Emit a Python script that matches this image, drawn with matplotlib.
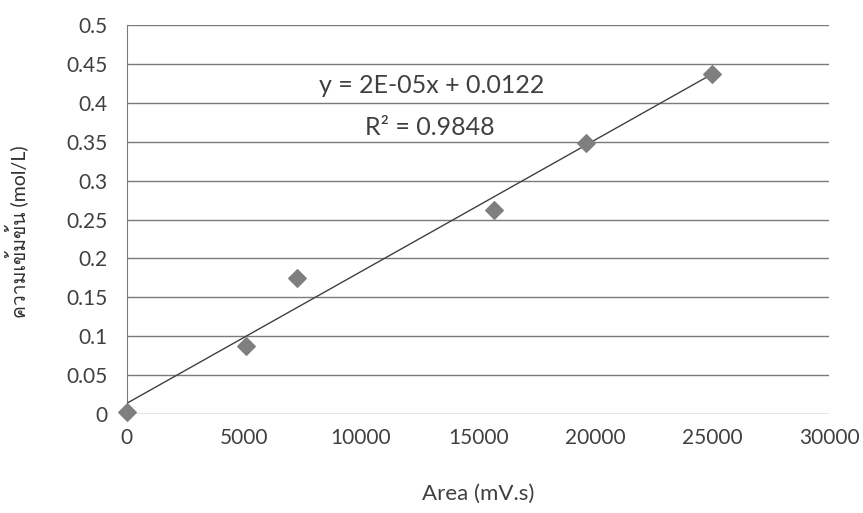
import numpy as np
import matplotlib.pyplot as plt
from matplotlib import font_manager

# calibration data
area = [0, 5100, 7250, 15700, 19600, 25000]
conc = [0.002, 0.088, 0.175, 0.262, 0.349, 0.437]
x_ticks = [0, 5000, 10000, 15000, 20000, 25000, 30000]
y_ticks = [0, 0.05, 0.1, 0.15, 0.2, 0.25, 0.3, 0.35, 0.4, 0.45, 0.5]
y_ticklabels = ['0', '0.05', '0.1', '0.15', '0.2', '0.25', '0.3', '0.35', '0.4', '0.45', '0.5']
eq_text = 'y = 2E-05x + 0.0122'
r2_text = 'R² = 0.9848'

# find a font that has Thai glyphs, if any
thai = [f.name for f in font_manager.fontManager.ttflist if 'Thai' in f.name or 'Garuda' in f.name or 'Loma' in f.name]
families = ['Lato'] + thai[:1] + ['DejaVu Sans']
plt.rcParams['font.family'] = families

fig = plt.figure(figsize=(8.63, 5.13), dpi=100)
ax = fig.add_axes([0.147, 0.193, 0.814, 0.758])

coef = np.polyfit(area, conc, 1)
xs = np.array([0, max(area)])
ax.plot(xs, np.polyval(coef, xs), color='#404040', lw=1.0, zorder=3)
ax.scatter(area, conc, marker='D', s=80, color='#7f7f7f', zorder=4, clip_on=False)

ax.set_xlim(0, 30000)
ax.set_ylim(0, 0.5)
ax.set_xticks(x_ticks)
ax.set_xticklabels([str(v) for v in x_ticks])
ax.set_yticks(y_ticks)
ax.set_yticklabels(y_ticklabels)
ax.tick_params(length=0, labelsize=15, colors='#404040')
ax.tick_params(axis='y', pad=14)
ax.tick_params(axis='x', pad=10)
ax.yaxis.grid(True, color='#7a7a7a', lw=1.0)
ax.set_axisbelow(True)
for s in ['top', 'right', 'bottom']:
    ax.spines[s].set_visible(False)
ax.spines['left'].set_color('#7a7a7a')

ax.text(13000, 0.423, eq_text, fontsize=18, color='#404040', ha='center', va='center')
ax.text(12950, 0.369, r2_text, fontsize=18, color='#404040', ha='center', va='center')

ax.set_xlabel('Area (mV.s)', fontsize=16, color='#404040', labelpad=26)
ax.set_ylabel('ความเข้มข้น (mol/L)', fontsize=14, color='#303030')
ax.yaxis.set_label_coords(-0.14, 0.47)

fig.savefig('out.png', dpi=100)
